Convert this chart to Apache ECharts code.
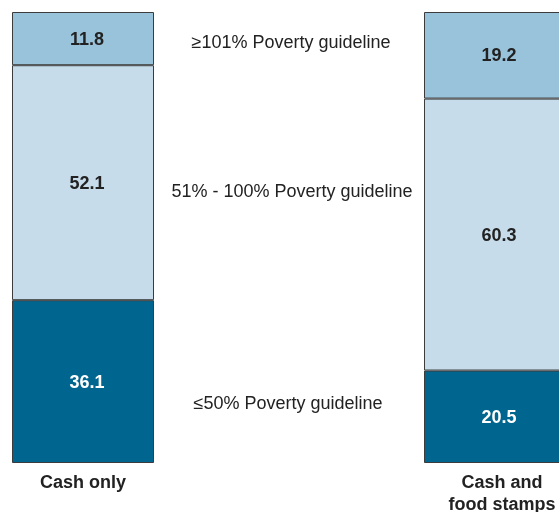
<!DOCTYPE html>
<html>
<head>
<meta charset="utf-8">
<script src="https://cdn.jsdelivr.net/npm/echarts@6/dist/echarts.min.js"></script>
<style>
  html, body { margin: 0; padding: 0; background: #fff; }
  #chart { width: 559px; height: 512px; }
</style>
</head>
<body>
<div id="chart"></div>
<script>
// categories (middle slot left empty for the band labels)
const categories = ['Cash only', '', 'Cash and\nfood stamps'];

// shares in percent, bottom to top
const le50 = [36.1, '-', 20.5];
const p51to100 = [52.1, '-', 60.3];
const ge101 = [11.8, '-', 19.2];

const bandLabels = ['\u2265101% Poverty guideline', '51% - 100% Poverty guideline', '\u226450% Poverty guideline'];

const chart = echarts.init(document.getElementById('chart'), null, { renderer: 'canvas' });

const font = 'Arial, "Liberation Sans", sans-serif';

function seg(name, data, color, textColor) {
    return {
        name: name,
        type: 'bar',
        stack: 'total',
        data: data,
        barWidth: 142,
        itemStyle: { color: color, borderColor: '#3c3c3c', borderWidth: 1 },
        label: {
            show: true,
            position: 'inside',
            offset: [4, 1],
            color: textColor,
            fontFamily: font,
            fontWeight: 'bold',
            fontSize: 18,
            formatter: p => p.value.toFixed(1)
        },
        emphasis: { disabled: true }
    };
}

function bandText(text, x, y) {
    return {
        type: 'text', x: x, y: y,
        style: { text: text, fontFamily: font, fontSize: 18, fill: '#222', align: 'center', verticalAlign: 'middle' }
    };
}

const option = {
    animation: false,
    backgroundColor: '#fff',
    grid: { left: -20, right: -39, top: 12, bottom: 49, containLabel: false, outerBoundsMode: 'none' },
    xAxis: {
        type: 'category',
        data: categories.map((c, i) => i === 2 ? { value: c, textStyle: { padding: [0, 0, 0, 14] } } : c),
        axisLine: { show: false },
        axisTick: { show: false },
        axisLabel: {
            color: '#222',
            fontFamily: font,
            fontWeight: 'bold',
            fontSize: 18,
            lineHeight: 22,
            margin: 9,
            interval: 0
        }
    },
    yAxis: {
        type: 'value',
        min: 0,
        max: 100,
        show: false,
        splitLine: { show: false }
    },
    series: [
        seg('\u226450%', le50, '#00658f', '#ffffff'),
        seg('51%-100%', p51to100, '#c6dcea', '#222222'),
        seg('\u2265101%', ge101, '#99c3db', '#222222')
    ],
    graphic: [
        bandText(bandLabels[0], 291, 43),
        bandText(bandLabels[1], 292, 192),
        bandText(bandLabels[2], 288, 404)
    ]
};

chart.setOption(option);
</script>
</body>
</html>
